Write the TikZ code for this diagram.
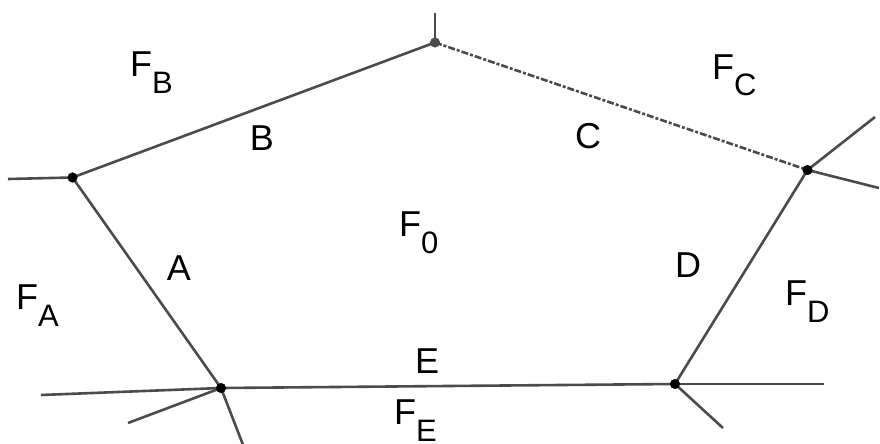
\documentclass[tikz,border=0pt]{standalone}
\usepackage{fontspec}
\setmainfont{Liberation Sans}

\definecolor{edgegray}{RGB}{75,75,75}
\newcommand{\facelabel}[1]{F\raisebox{-17pt}{\fontsize{31}{31}\selectfont #1}}

\tikzset{
  edge/.style={line width=2.6pt, edgegray},
  edgelabel/.style={font=\fontsize{36}{36}\selectfont, anchor=base, inner sep=0pt},
  facename/.style={font=\fontsize{36}{36}\selectfont, anchor=base west, inner sep=0pt}
}

\begin{document}
\begin{tikzpicture}[x=1pt, y=-1pt]
  \useasboundingbox (0,0) rectangle (880,444);

  % Vertices of the face
  \coordinate (P) at (435,42.5);
  \coordinate (Q) at (807.5,170);
  \coordinate (R) at (675,384);
  \coordinate (S) at (221,388);
  \coordinate (T) at (72.5,177.5);

  % Free ends of the outer edges
  \coordinate (P1) at (435,13);
  \coordinate (Q1) at (875,117);
  \coordinate (Q2) at (879,188);
  \coordinate (R1) at (824,384);
  \coordinate (R2) at (723,428);
  \coordinate (S1) at (41,395);
  \coordinate (S2) at (128,423);
  \coordinate (S3) at (245,450);
  \coordinate (T1) at (8,179);

  % Sides
  \draw[edge] (T) -- (S);
  \draw[edge] (P) -- (T);
  \draw[edge, dash pattern=on 7pt off 2pt on 3pt off 2pt] (P) -- (Q);
  \draw[edge] (Q) -- (R);
  \draw[edge] (S) -- (R);

  % Outer edges
  \draw[edge] (P) -- (P1);
  \draw[edge] (Q) -- (Q1);
  \draw[edge] (Q) -- (Q2);
  \draw[edge] (R) -- (R1);
  \draw[edge] (R) -- (R2);
  \draw[edge] (S) -- (S1);
  \draw[edge] (S) -- (S2);
  \draw[edge] (S) -- (S3);
  \draw[edge] (T) -- (T1);

  \filldraw[edgegray] (P) circle (4.8);
  \filldraw[black] (Q) circle (4.8);
  \filldraw[black] (R) circle (4.8);
  \filldraw[black] (S) circle (4.8);
  \filldraw[black] (T) circle (4.8);

  % Edge labels
  \node[edgelabel] (labA) at (179,280) {A};
  \node[edgelabel] (labB) at (262,150.5) {B};
  \node[edgelabel] (labC) at (588,148) {C};
  \node[edgelabel] (labD) at (688,277) {D};
  \node[edgelabel] (labE) at (427,373) {E};

  % Face labels
  \node[facename] (face0) at (399,236) {\facelabel{0}};
  \node[facename] (faceA) at (16,309) {\facelabel{A}};
  \node[facename] (faceB) at (130,77) {\facelabel{B}};
  \node[facename] (faceC) at (712,79) {\facelabel{C}};
  \node[facename] (faceD) at (785,305) {\facelabel{D}};
  \node[facename] (faceE) at (394,424) {\facelabel{E}};

\end{tikzpicture}
\end{document}
